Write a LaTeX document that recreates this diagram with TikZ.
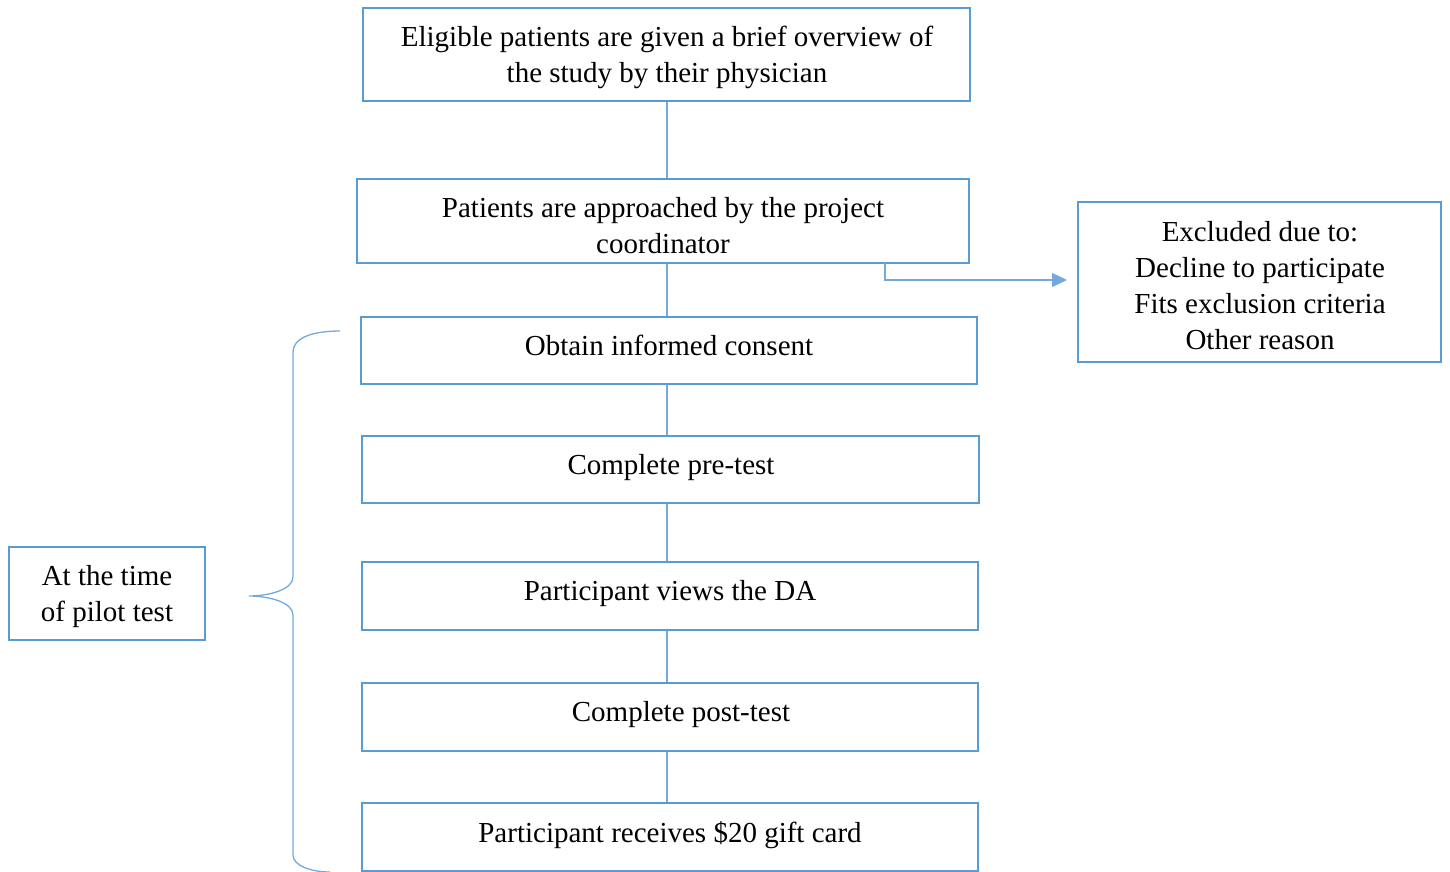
\documentclass[tikz,border=0pt]{standalone}
\usepackage{fontspec}
\setmainfont{Liberation Serif}
\usetikzlibrary{arrows.meta}
\definecolor{boxblue}{HTML}{5B9BD5}
\begin{document}
\begin{tikzpicture}[x=1pt,y=-1pt,
  box/.style={draw=boxblue, line width=2.6pt, inner sep=0pt, fill=none},
  txt/.style={font=\fontsize{29}{36}\selectfont, align=center, inner sep=0pt, text=black},
  conn/.style={draw=boxblue!85, line width=1.3pt}]
\useasboundingbox (0,0) rectangle (1450,872);
% boxes
\node[box, minimum width=607pt, minimum height=93pt] (b1) at (666.5,54.5) {};
\node[box, minimum width=612pt, minimum height=84pt] (b2) at (663,221) {};
\node[box, minimum width=616pt, minimum height=67pt] (b3) at (669,350.5) {};
\node[box, minimum width=617pt, minimum height=67pt] (b4) at (670.5,469.5) {};
\node[box, minimum width=616pt, minimum height=68pt] (b5) at (670,596) {};
\node[box, minimum width=616pt, minimum height=68pt] (b6) at (670,717) {};
\node[box, minimum width=616pt, minimum height=68pt] (b7) at (670,837) {};
\node[box, minimum width=363pt, minimum height=160pt] (ex) at (1259.5,282) {};
\node[box, minimum width=196pt, minimum height=93pt] (at) at (107,593.5) {};
% texts
\node[txt] (t1) at (667,57) {Eligible patients are given a brief overview of\\the study by their physician};
\node[txt] (t2) at (663,226) {Patients are approached by the project\\coordinator};
\node[txt] (t3) at (669,345.5) {Obtain informed consent};
\node[txt] (t4) at (671,467.5) {Complete pre-test};
\node[txt] (t5) at (670,593.5) {Participant views the DA};
\node[txt] (t6) at (681,714.5) {Complete post-test};
\node[txt] (t7) at (670,835) {Participant receives \$20 gift card};
\node[txt] (tex) at (1260,286) {Excluded due to:\\Decline to participate\\Fits exclusion criteria\\Other reason};
\node[txt] (tat) at (107,597) {At the time\\of pilot test};
% connectors
\coordinate (c1) at (667,0);
\draw[conn] (b1.south -| c1) -- (b2.north -| c1);
\draw[conn] (b2.south -| c1) -- (b3.north -| c1);
\draw[conn] (b3.south -| c1) -- (b4.north -| c1);
\draw[conn] (b4.south -| c1) -- (b5.north -| c1);
\draw[conn] (b5.south -| c1) -- (b6.north -| c1);
\draw[conn] (b6.south -| c1) -- (b7.north -| c1);
\coordinate (a0) at (885,263);
\coordinate (a1) at (885,280);
\coordinate (a2) at (1067,280);
\draw[conn, -{Triangle[length=15pt,width=14pt]}] (a0) -- (a1) -- (a2);
% brace
\coordinate (br0) at (340,331);
\coordinate (brt) at (249,596);
\coordinate (br1) at (330,872);
\draw[conn] (br0) .. controls (312,331) and (293,338) .. (293,352)
  -- (293,577) .. controls (293,590) and (268,596) .. (brt)
  .. controls (268,596) and (293,602) .. (293,615)
  -- (293,855) .. controls (293,866) and (312,872) .. (br1);
\end{tikzpicture}
\end{document}
